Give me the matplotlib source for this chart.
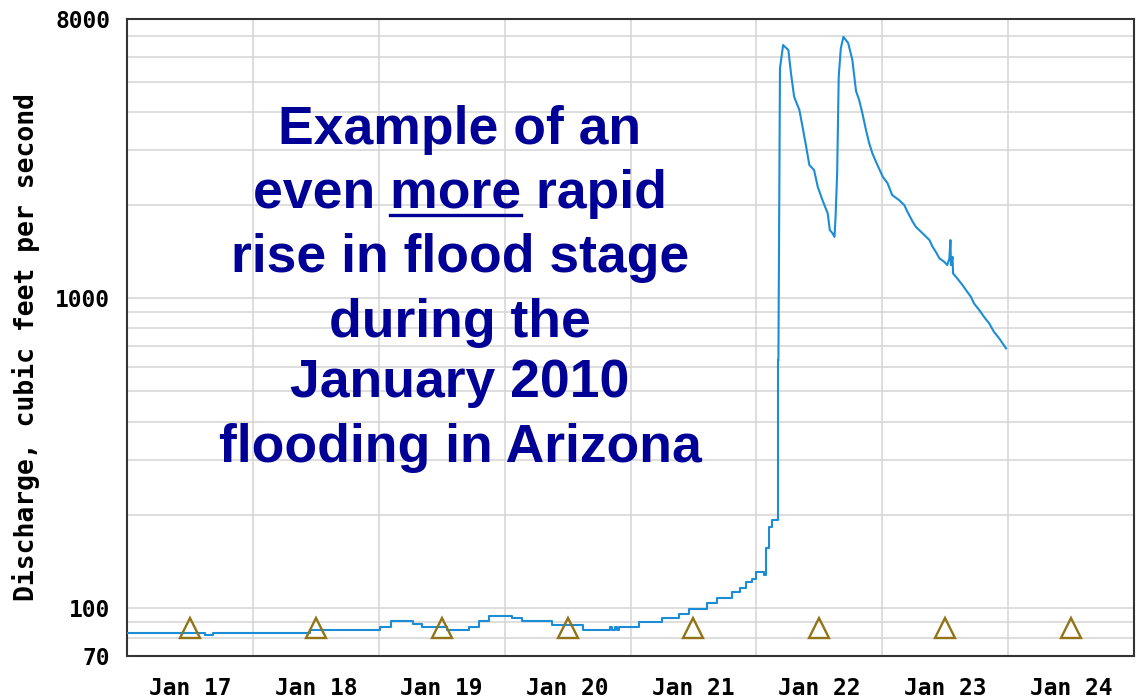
import matplotlib
matplotlib.use("Agg")
import matplotlib.pyplot as plt
import matplotlib.dates as mdates
from matplotlib.ticker import FixedLocator, FixedFormatter, NullFormatter
from matplotlib.lines import Line2D
import pandas as pd

# ---- data -------------------------------------------------------------
start = pd.Timestamp("2010-01-17 00:00")

# hours after Jan 17 00:00 and discharge (cubic feet per second)
hours = [
    0.0, 14.9, 16.4, 34.9, 48.2, 50.3, 54.5, 56.2, 61.1, 65.3,
    67.2, 69.1, 73.5, 75.4, 81.1, 86.9, 92.0, 92.4, 93.0, 93.4,
    93.9, 97.7, 102.1, 105.3, 107.2, 110.5, 112.4, 115.4, 116.8, 118.1,
    119.2, 120.0, 121.5, 121.9, 122.5, 123.0, 124.2, 124.5, 125.1, 126.1,
    126.6, 127.2, 128.2, 128.8, 129.5, 130.1, 131.0, 131.7, 132.6, 133.6,
    134.0, 134.5, 134.9, 135.1, 135.4, 135.7, 136.1, 136.6, 137.5, 138.3,
    139.0, 139.6, 140.2, 140.9, 141.5, 142.1, 142.8, 144.1, 145.0, 145.9,
    147.2, 148.2, 148.8, 149.8, 150.4, 151.7, 153.0, 153.6, 154.2, 154.9,
    155.8, 156.4, 156.8, 157.0, 157.1, 157.4, 157.5, 158.3, 159.3, 160.2,
    160.9, 161.5, 162.5, 163.4, 164.4, 165.3, 166.3, 167.6,
]
discharge = [
    83, 82, 83, 85, 87, 91, 89, 87, 85, 87,
    91, 94, 93, 91, 88, 85, 87, 85, 87, 85,
    87, 90, 93, 96, 99, 104, 108, 113, 116, 121,
    124, 131, 128, 156, 182, 192, 631, 5536, 6568, 6328,
    5321, 4473, 4051, 3577, 3083, 2692, 2593, 2290, 2075, 1879,
    1660, 1623, 1578, 1832, 2531, 5189, 6410, 6980, 6667, 5875,
    4666, 4363, 3962, 3491, 3170, 2942, 2758, 2467, 2353, 2153,
    2075, 1999, 1902, 1766, 1701, 1620, 1541, 1466, 1413, 1345,
    1312, 1280, 1345, 1541, 1280, 1361, 1203, 1159, 1103, 1049,
    1011, 962, 916, 871, 829, 779, 742, 689,
]
# base-flow readings are drawn as steps, the flood wave as a trace
flood_start_hour = 124.2

# median daily statistic, plotted at noon of each day
median_hours = [12, 36, 60, 84, 108, 132, 156, 180]
median_discharge = [86, 86, 86, 86, 86, 86, 86, 86]

y_ticks = [70, 100, 1000, 8000]
y_tick_labels = ["70", "100", "1000", "8000"]
y_grid = [80, 90, 200, 300, 400, 500, 600, 700, 800, 900,
          2000, 3000, 4000, 5000, 6000, 7000]

note_lines = ["Example of an", "even more rapid", "rise in flood stage",
              "during the", "January 2010", "flooding in Arizona"]
underlined_word = "more"

# ---- figure -----------------------------------------------------------
W, H = 1137, 700
fig = plt.figure(figsize=(W / 100, H / 100), dpi=100)
fig.patch.set_facecolor("white")
ax = fig.add_axes([127 / W, 1 - 656 / H, (1134 - 127) / W, (656 - 18.5) / H])

times = start + pd.to_timedelta(hours, unit="h")
med_times = start + pd.to_timedelta(median_hours, unit="h")

split = hours.index(flood_start_hour)
line_kw = dict(color="#1b8cd6", lw=1.5, zorder=3)
ax.plot(times[:split + 1], discharge[:split + 1], drawstyle="steps-post",
        **line_kw)
ax.plot(times[split:], discharge[split:], **line_kw)
ax.plot(med_times, median_discharge, linestyle="none", marker="^",
        markersize=15, markerfacecolor="none", markeredgecolor="#927318",
        markeredgewidth=1.7, zorder=4, clip_on=False)

ax.set_yscale("log")
ax.set_ylim(70, 8000)
ax.set_xlim(start, start + pd.Timedelta(days=8))

ax.yaxis.set_major_locator(FixedLocator(y_ticks))
ax.yaxis.set_major_formatter(FixedFormatter(y_tick_labels))
ax.yaxis.set_minor_locator(FixedLocator(y_grid))
ax.yaxis.set_minor_formatter(NullFormatter())

ax.xaxis.set_major_locator(mdates.DayLocator())
ax.xaxis.set_major_formatter(NullFormatter())
ax.xaxis.set_minor_locator(mdates.HourLocator(byhour=12))
ax.xaxis.set_minor_formatter(mdates.DateFormatter("%b %d"))

grid_kw = dict(color="#d4d4d4", lw=1.1, zorder=0)
ax.grid(True, which="both", axis="y", **grid_kw)
ax.grid(True, which="major", axis="x", **grid_kw)
ax.set_axisbelow(True)

ax.tick_params(axis="both", which="both", length=0)
ax.tick_params(axis="y", which="major", pad=12)
ax.tick_params(axis="x", which="minor", pad=15)
for lab in ax.get_yticklabels() + ax.get_xticklabels(minor=True):
    lab.set_fontfamily("DejaVu Sans Mono")
    lab.set_fontweight("bold")
    lab.set_fontsize(16.5)
    lab.set_color("#000000")

for sp in ax.spines.values():
    sp.set_color("#333333")
    sp.set_linewidth(1.5)

fig.text(26 / W, 1 - 347 / H, "Discharge, cubic feet per second",
         rotation=90, ha="center", va="center", color="#000000",
         family="DejaVu Sans Mono", weight="bold", size=19)

# ---- annotation -------------------------------------------------------
note_kw = dict(family="Liberation Sans", weight="bold", size=38.5,
               color="#000096", ha="center", va="baseline")
center_x = 460 / W
baselines = [144, 208, 272, 337, 397, 462]
texts = []
for line, base in zip(note_lines, baselines):
    texts.append(fig.text(center_x, 1 - base / H, line, zorder=5, **note_kw))

# underline the emphasised word of the second line
fig.canvas.draw()
renderer = fig.canvas.get_renderer()
bb = texts[1].get_window_extent(renderer)
words = note_lines[1]
end_idx = words.index(underlined_word) + len(underlined_word)
probe_kw = dict(note_kw)
probe_kw["ha"] = "left"
p1 = fig.text(0, 0, words[:end_idx], **probe_kw)
p2 = fig.text(0, 0, underlined_word, **probe_kw)
w1 = p1.get_window_extent(renderer).width
w2 = p2.get_window_extent(renderer).width
p1.remove()
p2.remove()
x_end = bb.x0 + w1
x_start = x_end - w2
y_ul = H - 215
fig.add_artist(Line2D([x_start / W, x_end / W], [y_ul / H, y_ul / H],
                      transform=fig.transFigure, color="#000096", lw=2.4,
                      zorder=5))

fig.savefig("out.png", dpi=100)
